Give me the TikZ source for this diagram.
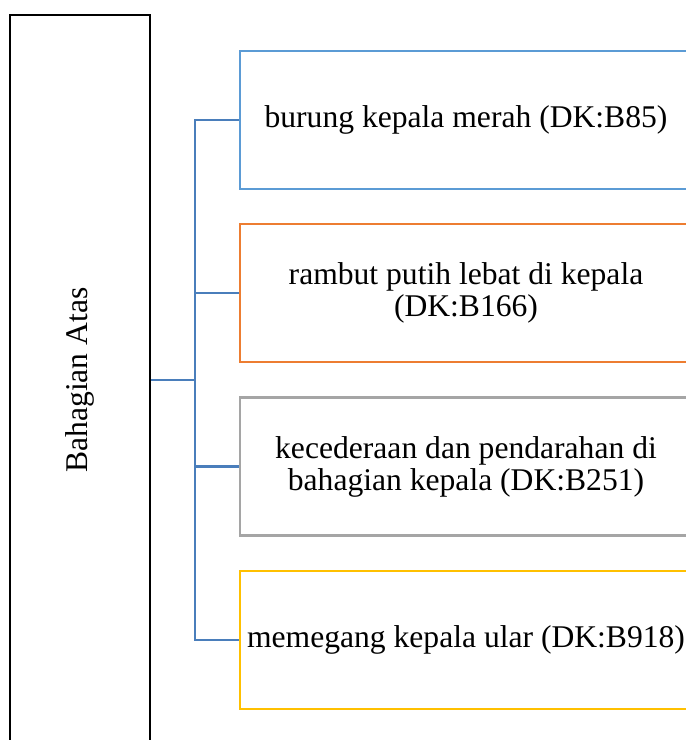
\documentclass[tikz,border=0pt]{standalone}
\usepackage{fontspec}
\setmainfont{Liberation Serif}
\definecolor{biru}{HTML}{5B9BD5}
\definecolor{oren}{HTML}{ED7D31}
\definecolor{kelabu}{HTML}{A5A5A5}
\definecolor{emas}{HTML}{FFC000}
\definecolor{garis}{HTML}{4A7EBB}
\tikzset{
  kotak/.style={draw, line width=1.1pt, minimum width=226pt, minimum height=69pt,
    align=center, inner sep=0pt, font=\fontsize{15.8}{16}\selectfont},
  sambung/.style={draw=garis, line width=1.1pt}
}
\begin{document}
\begin{tikzpicture}[x=0.5pt, y=-0.5pt]
    \useasboundingbox (0,0) rectangle (686,740);
    \clip (0,0) rectangle (686,740);
    % Kotak kiri
    \node[draw, line width=1.4pt, minimum width=70pt, minimum height=392pt, inner sep=0pt] (induk) at (80,407) {};
    \node[rotate=90, font=\fontsize{15.8}{16}\selectfont] (tajuk) at (80,380) {Bahagian Atas};

    % Kotak kanan
    \node[kotak, draw=biru] (b1) at (466,120) {burung kepala merah (DK:B85)};
    \node[kotak, draw=oren] (b2) at (466,293) {rambut putih lebat di kepala\\(DK:B166)};
    \node[kotak, draw=kelabu] (b3) at (466,466.5) {kecederaan dan pendarahan di\\bahagian kepala (DK:B251)};
    \node[kotak, draw=emas] (b4) at (466,640) {memegang kepala ular (DK:B918)};

    % Garis penyambung
    \coordinate (hab) at (195,380);
    \draw[sambung] (induk.east |- tajuk) -- (hab);
    \foreach \k in {b1,b2,b3,b4}
        \draw[sambung] (hab) |- (\k.west);
\end{tikzpicture}
\end{document}
